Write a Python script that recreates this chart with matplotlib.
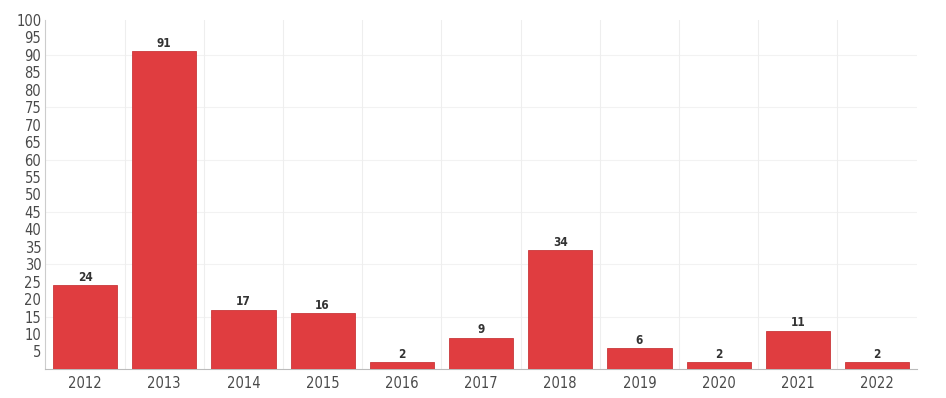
import matplotlib.pyplot as plt

years = ["2012", "2013", "2014", "2015", "2016", "2017", "2018", "2019", "2020", "2021", "2022"]
counts = [24, 91, 17, 16, 2, 9, 34, 6, 2, 11, 2]
yticks = list(range(5, 101, 5))

plt.rcParams['font.family'] = ['DejaVu Sans']
plt.rcParams['font.stretch'] = 'condensed'

fig = plt.figure(figsize=(9.46, 3.98), dpi=100)
ax = fig.add_axes([0.048, 0.073, 0.921, 0.877])

x = list(range(len(years)))
bars = ax.bar(x, counts, width=0.81, color='#e03d40', edgecolor='#c9383a', linewidth=0.6, zorder=3)

for xi, v in zip(x, counts):
    ax.text(xi, v + 0.4, str(v), ha='center', va='bottom', fontsize=8.5,
            fontweight='bold', color='#333333', stretch='condensed')

ax.set_xlim(-0.5, len(years) - 0.5)
ax.set_ylim(0, 100)
ax.set_xticks(x)
ax.set_xticklabels(years, fontsize=10.5, color='#4a4a4a')
ax.set_yticks(yticks)
ax.set_yticklabels([str(t) for t in yticks], fontsize=10.5, color='#4a4a4a')

# faint grid: vertical between categories, horizontal every 15
ax.set_xticks([i + 0.5 for i in x[:-1]], minor=True)
ax.grid(axis='x', which='minor', color='#eeeeee', linewidth=0.8, zorder=0)
for gy in range(15, 100, 15):
    ax.axhline(gy, color='#f2f2f2', linewidth=0.8, zorder=0)

ax.tick_params(axis='both', which='both', length=0, pad=3)
ax.tick_params(axis='x', pad=5)
for s in ['top', 'right']:
    ax.spines[s].set_visible(False)
ax.spines['left'].set_color('#cccccc')
ax.spines['bottom'].set_color('#bbbbbb')

plt.savefig("out.png", dpi=100)
